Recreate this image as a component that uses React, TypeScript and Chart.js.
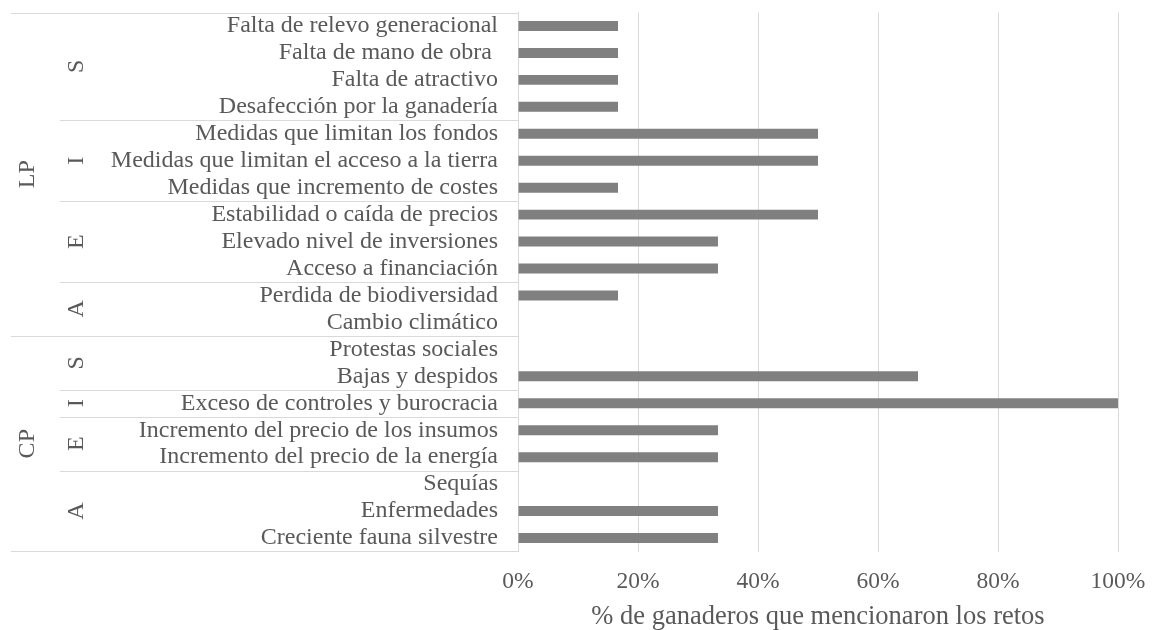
import React, { useEffect, useRef } from "react";
import { Chart, registerables } from "chart.js";

Chart.register(...registerables);

const categories = [
  "Falta de relevo generacional",
  "Falta de mano de obra ",
  "Falta de atractivo",
  "Desafección por la ganadería",
  "Medidas que limitan los fondos",
  "Medidas que limitan el acceso a la tierra",
  "Medidas que incremento de costes",
  "Estabilidad o caída de precios",
  "Elevado nivel de inversiones",
  "Acceso a financiación",
  "Perdida de biodiversidad",
  "Cambio climático",
  "Protestas sociales",
  "Bajas y despidos",
  "Exceso de controles y burocracia",
  "Incremento del precio de los insumos",
  "Incremento del precio de la energía",
  "Sequías",
  "Enfermedades",
  "Creciente fauna silvestre",
];

const values = [
  16.67, 16.67, 16.67, 16.67,
  50, 50, 16.67,
  50, 33.33, 33.33,
  16.67, 0,
  0, 66.67,
  100,
  33.33, 33.33,
  0, 33.33, 33.33,
];

const level1Labels = ["LP", "CP"];
const level1Counts = [12, 8];
const level2Labels = ["S", "I", "E", "A", "S", "I", "E", "A"];
const level2Counts = [4, 3, 3, 2, 2, 1, 2, 3];

const xTicks = [0, 20, 40, 60, 80, 100];
const xTitle = "% de ganaderos que mencionaron los retos";

const FONT = "'Liberation Serif', 'Times New Roman', serif";
const TEXT = "#595959";
const LINE = "#d9d9d9";

const levelPlugin = {
  id: "levels",
  afterDraw(chart: any) {
    const ctx = chart.ctx;
    const y = chart.scales.y;
    const left = chart.chartArea.left;
    const half = (y.getPixelForValue(1) - y.getPixelForValue(0)) / 2;
    const edge = (i: number) => Math.round(y.getPixelForValue(i) - half) + 0.5;
    ctx.save();
    ctx.strokeStyle = LINE;
    ctx.lineWidth = 1;
    let idx = 0;
    const l1Bounds = [0];
    level1Counts.forEach((c) => {
      idx += c;
      l1Bounds.push(idx);
    });
    l1Bounds.forEach((b) => {
      const py = edge(b);
      ctx.beginPath();
      ctx.moveTo(11, py);
      ctx.lineTo(left, py);
      ctx.stroke();
    });
    idx = 0;
    const l2Bounds: number[] = [];
    level2Counts.forEach((c) => {
      idx += c;
      l2Bounds.push(idx);
    });
    l2Bounds.forEach((b) => {
      if (l1Bounds.includes(b)) return;
      const py = edge(b);
      ctx.beginPath();
      ctx.moveTo(60, py);
      ctx.lineTo(left, py);
      ctx.stroke();
    });
    ctx.fillStyle = TEXT;
    ctx.font = `24px ${FONT}`;
    ctx.textAlign = "center";
    ctx.textBaseline = "middle";
    const drawRot = (text: string, x: number, cy: number) => {
      ctx.save();
      ctx.translate(x, cy);
      ctx.rotate(-Math.PI / 2);
      ctx.fillText(text, 0, 0);
      ctx.restore();
    };
    idx = 0;
    level1Labels.forEach((t, i) => {
      const s = idx;
      idx += level1Counts[i];
      const cy = (y.getPixelForValue(s) + y.getPixelForValue(idx - 1)) / 2;
      drawRot(t, 28, cy);
    });
    idx = 0;
    level2Labels.forEach((t, i) => {
      const s = idx;
      idx += level2Counts[i];
      const cy = (y.getPixelForValue(s) + y.getPixelForValue(idx - 1)) / 2;
      drawRot(t, 77, cy);
    });
    ctx.restore();
  },
};

export default function App() {
  const ref = useRef<HTMLCanvasElement>(null);
  useEffect(() => {
    if (!ref.current) return;
    const chart = new Chart(ref.current, {
      type: "bar",
      data: {
        labels: categories,
        datasets: [
          {
            data: values,
            backgroundColor: "#808080",
            borderWidth: 0,
            categoryPercentage: 1,
            barPercentage: 0.37,
          },
        ],
      },
      options: {
        indexAxis: "y",
        responsive: false,
        animation: false,
        layout: { padding: { left: 0, right: 37, top: 12.5, bottom: 0 } },
        plugins: { legend: { display: false }, tooltip: { enabled: false } },
        scales: {
          x: {
            min: 0,
            max: 100,
            afterBuildTicks(scale: any) {
              scale.ticks = xTicks.map((v) => ({ value: v }));
            },
            afterFit(scale: any) {
              scale.height = 78.5;
              scale.paddingLeft = 0;
              scale.paddingRight = 0;
            },
            ticks: {
              callback: (v: any) => `${v}%`,
              font: { family: FONT, size: 23.5, lineHeight: 1 },
              color: TEXT,
              padding: 18.5,
            },
            grid: { color: LINE, lineWidth: 1, drawTicks: false },
            border: { display: false },
            title: {
              display: true,
              text: xTitle,
              font: { family: FONT, size: 26.5, lineHeight: 1 },
              color: TEXT,
              padding: { top: 0, bottom: 0 },
            },
          },
          y: {
            afterFit(scale: any) {
              scale.width = 518;
              scale.paddingTop = 0;
              scale.paddingBottom = 0;
            },
            ticks: {
              autoSkip: false,
              font: { family: FONT, size: 24, lineHeight: 1 },
              color: TEXT,
              padding: 20,
            },
            grid: { display: false, drawTicks: false },
            border: { display: true, color: LINE, width: 1 },
          },
        },
      },
      plugins: [levelPlugin],
    });
    return () => chart.destroy();
  }, []);
  return (
    <div style={{ position: "absolute", left: 0, top: 0, width: 1155, height: 630, background: "#fff" }}>
      <canvas ref={ref} width={1155} height={630} />
    </div>
  );
}
